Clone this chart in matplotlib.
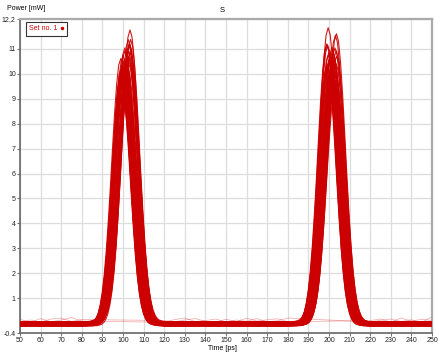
import matplotlib
matplotlib.use("Agg")
import matplotlib.pyplot as plt
from matplotlib.lines import Line2D

plt.rcParams['font.family'] = ['Liberation Sans', 'DejaVu Sans']

# ---- data ----
x_ticks = [50, 60, 70, 80, 90, 100, 110, 120, 130, 140, 150, 160, 170, 180, 190, 200, 210, 220, 230, 240, 250]
y_ticks = [-0.4, 1, 2, 3, 4, 5, 6, 7, 8, 9, 10, 11, 12.2]
y_tick_labels = ['-0.4', '1', '2', '3', '4', '5', '6', '7', '8', '9', '10', '11', '12,2']

pulse_centers = [101.3, 201.3]

# pulse profile (time offset in ps, relative power)
profile_t = [-16, -14, -13, -12, -11, -10, -9, -8, -7, -6, -5, -4, -3, -2, -1, 0,
             1, 2, 3, 4, 5, 6, 7, 8, 9, 10, 11, 12, 13, 14, 16]
profile_v = [0.0014, 0.0063, 0.0127, 0.0243, 0.0439, 0.0756, 0.123, 0.191, 0.282, 0.395, 0.524, 0.662, 0.793, 0.902, 0.975, 1.0,
             0.975, 0.902, 0.793, 0.662, 0.524, 0.395, 0.282, 0.191, 0.123, 0.0756, 0.0439, 0.0243, 0.0127, 0.0063, 0.0014]

# per-trace peak powers (mW) for the two pulses
amp1 = [10.2, 9.8, 10.6, 11.0, 9.5, 10.4, 10.9, 9.9, 10.1, 11.3, 10.7, 9.7, 10.3, 10.8, 9.2, 10.5,
        11.8, 10.0, 9.6, 10.6, 11.1, 10.2, 9.9, 10.4, 11.5, 10.7, 9.4, 10.1, 10.9, 10.3, 9.8, 10.6,
        11.2, 10.0, 9.7, 10.5, 10.8, 9.3, 10.2, 11.0, 10.4, 9.9, 10.6, 10.1, 11.4, 10.3, 9.6, 10.7]
amp2 = [10.5, 10.1, 9.7, 10.8, 11.2, 9.9, 10.3, 10.6, 9.4, 10.9, 11.7, 10.2, 9.8, 10.4, 11.0, 10.0,
        9.6, 10.7, 11.3, 10.1, 9.9, 10.5, 10.8, 9.3, 10.2, 11.5, 10.6, 9.8, 10.3, 11.1, 10.0, 9.7,
        10.4, 10.9, 9.5, 10.2, 11.8, 10.6, 9.9, 10.3, 10.7, 9.6, 11.0, 10.4, 10.1, 9.8, 10.5, 11.2]
# per-trace timing jitter (ps)
shift1 = [-2.1, 0.5, 1.6, -0.4, 1.2, -1.4, 2.2, 0.0, -0.9, 1.8, -2.4, 0.8, -0.3, 1.3, -1.7, 0.4,
          2.1, -1.2, 1.0, -0.6, 1.7, -2.0, 0.3, -0.1, 2.4, -1.3, 0.6, -0.8, 1.4, -2.2, 0.9, -0.5,
          2.0, -1.6, 0.1, -1.0, 2.3, -1.8, 1.1, -0.4, 1.5, -2.3, 0.5, -0.7, 1.3, -1.5, 0.8, 1.9]
shift2 = [1.0, -1.8, 2.0, -0.3, -2.2, 0.8, 1.4, -1.0, 0.4, -1.4, 2.3, -0.5, 1.2, -2.1, 0.1, 1.7,
          -0.8, 0.6, -2.4, 1.3, -0.1, 2.1, -1.6, 0.9, -0.6, 1.8, -1.3, 0.3, -2.0, 1.6, -0.4, 1.0,
          -2.3, 2.2, -0.9, 0.5, -1.7, 1.4, -1.2, 0.0, 2.4, -0.8, 0.7, -1.4, 1.7, -0.2, 1.2, -1.9]
# per-trace baseline level (mW)
base = [-0.06, 0.02, -0.10, 0.04, -0.03, -0.08, 0.01, -0.12, 0.03, -0.05, -0.09, 0.00, -0.02, -0.11, 0.05, -0.07,
        -0.04, 0.02, -0.10, -0.01, 0.03, -0.08, -0.05, 0.01, -0.12, 0.04, -0.03, -0.09, 0.00, -0.06, 0.02, -0.11,
        -0.04, 0.03, -0.07, -0.02, 0.05, -0.10, -0.01, -0.08, 0.01, -0.05, -0.12, 0.02, -0.03, -0.09, 0.04, -0.06]

# baseline sample times and faint ripple traces
base_t1 = [50, 55, 60, 65, 70, 75, 80]
base_t2 = [120, 125, 130, 135, 140, 145, 150, 155, 160, 165, 170, 175, 180]
base_t3 = [220, 225, 230, 235, 240, 245, 250]
ripple_a = [0.15, 0.02, 0.18, 0.05, 0.12, 0.22, 0.08, 0.03, 0.14, 0.20, 0.06, 0.10, 0.16, 0.04, 0.12, 0.07,
            0.18, 0.05, 0.09, 0.20, 0.04, 0.11, 0.16, 0.06, 0.13, 0.03, 0.25]
ripple_b = [0.05, 0.12, 0.04, 0.16, 0.20, 0.06, 0.14, 0.10, 0.05, 0.12, 0.18, 0.07, 0.04, 0.15, 0.06, 0.19,
            0.08, 0.13, 0.17, 0.05, 0.10, 0.16, 0.04, 0.20, 0.08, 0.15, 0.10]

RED = '#cc0000'

fig = plt.figure(figsize=(4.45, 3.55), dpi=100)
ax = fig.add_axes([20 / 445, 22 / 355, 412 / 445, 314 / 355])

for i in range(len(base)):
    t = list(base_t1)
    v = [base[i]] * len(base_t1)
    t += [pulse_centers[0] + shift1[i] + p for p in profile_t]
    v += [base[i] + amp1[i] * p for p in profile_v]
    t += base_t2
    v += [base[i]] * len(base_t2)
    t += [pulse_centers[1] + shift2[i] + p for p in profile_t]
    v += [base[i] + amp2[i] * p for p in profile_v]
    t += base_t3
    v += [base[i]] * len(base_t3)
    ax.plot(t, v, color=RED, lw=0.8, alpha=0.9, solid_joinstyle='round', zorder=3)

all_bt = base_t1 + base_t2 + base_t3
ax.plot(all_bt, ripple_a, color=RED, lw=0.6, alpha=0.3, zorder=2)
ax.plot(all_bt, ripple_b, color=RED, lw=0.6, alpha=0.3, zorder=2)

ax.set_xlim(50, 250)
ax.set_ylim(-0.4, 12.2)
ax.set_xticks(x_ticks)
ax.set_xticklabels([str(v) for v in x_ticks])
ax.set_yticks(y_ticks)
ax.set_yticklabels(y_tick_labels)
ax.grid(True, color='#dddddd', lw=0.9, zorder=0)
ax.set_axisbelow(True)
ax.tick_params(axis='both', labelsize=5, length=2, width=0.6, pad=1, color='#555555', labelcolor='#222222')

for s in ['left', 'bottom']:
    ax.spines[s].set_color('#666666')
    ax.spines[s].set_linewidth(1.2)
for s in ['right', 'top']:
    ax.spines[s].set_color('#aaaaaa')
    ax.spines[s].set_linewidth(1.6)

handle = Line2D([], [], color=RED, marker='.', linestyle='none', markersize=3)
leg = ax.legend([handle], ['Set no. 1'], loc='upper left', bbox_to_anchor=(6 / 412, 1 - 3 / 314),
                borderaxespad=0, markerfirst=False, fontsize=5, labelcolor=RED, fancybox=False,
                framealpha=1, edgecolor='#333333', handlelength=0.5, handletextpad=0.3, borderpad=0.5)
leg.get_frame().set_linewidth(0.8)

fig.text(222 / 445, 1 - 10 / 355, 'S', ha='center', va='center', fontsize=5.5)
fig.text(7 / 445, 1 - 9 / 355, 'Power [mW]', ha='left', va='center', fontsize=5)
fig.text(222 / 445, 1 - 349 / 355, 'Time [ps]', ha='center', va='center', fontsize=5)

fig.savefig('out.png', dpi=100)
